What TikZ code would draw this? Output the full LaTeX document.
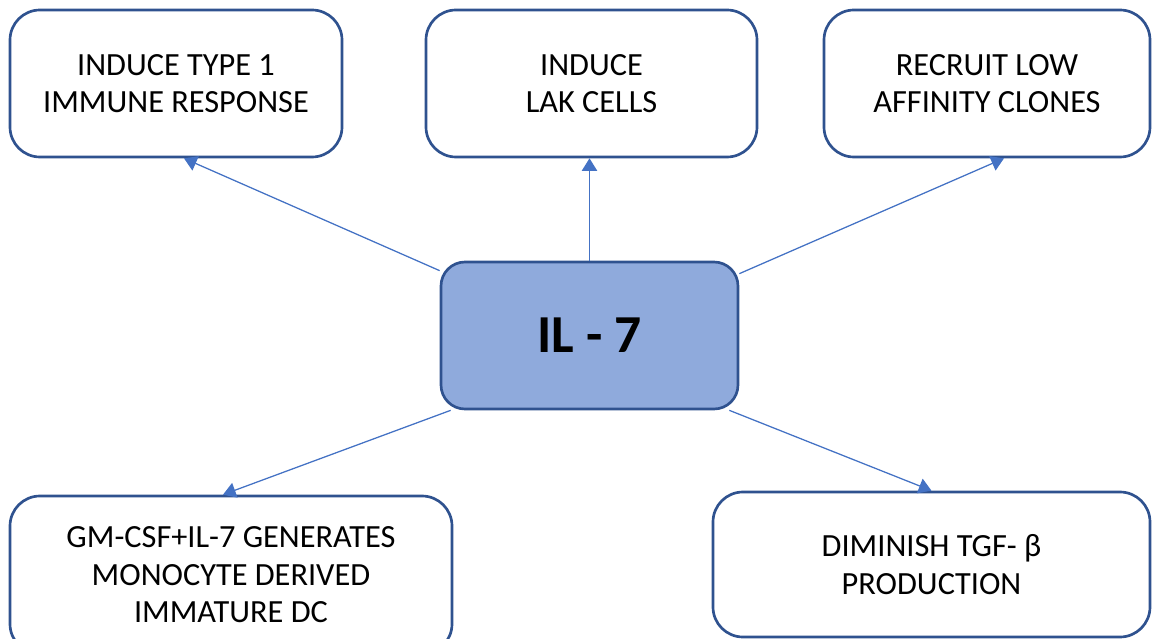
\documentclass[tikz,border=0pt]{standalone}
\usepackage{fontspec}
\setmainfont{Carlito}
\usetikzlibrary{arrows.meta,calc}
\definecolor{boxline}{HTML}{2F528F}
\definecolor{boxfill}{HTML}{8FAADC}
\definecolor{linkline}{HTML}{4472C4}

\begin{document}
\begin{tikzpicture}[>={Triangle[length=9pt,width=11pt]},line join=round]
  \tikzset{box/.style={draw=boxline,line width=1.9pt,rounded corners=0.75cm,fill=white,align=center,inner sep=0pt,font=\fontsize{23}{26.7}\selectfont},
    link/.style={draw=linkline,fill=linkline,line width=0.9pt,->}}
  \useasboundingbox (0,0) rectangle (28.825,15.95);
  \clip (0,0) rectangle (28.825,15.95);
  \node[box,minimum width=8.3cm,minimum height=3.675cm] (type1) at (4.4,13.8625) {INDUCE TYPE 1\\IMMUNE RESPONSE};
  \node[box,minimum width=8.275cm,minimum height=3.675cm] (lak) at (14.7875,13.8625) {INDUCE\\LAK CELLS};
  \node[box,minimum width=8.15cm,minimum height=3.675cm] (clones) at (24.675,13.8625) {RECRUIT LOW\\AFFINITY CLONES};
  \node[box,fill=boxfill,rounded corners=0.6cm,minimum width=7.425cm,minimum height=3.675cm,font=\bfseries\fontsize{38}{40}\selectfont] (il7) at (14.7375,7.5625) {IL - 7};
  \node[box,minimum width=11.05cm,minimum height=3.95cm] (monodc) at (5.775,1.575) {GM-CSF+IL-7 GENERATES\\MONOCYTE DERIVED\\IMMATURE DC};
  \node[box,minimum width=10.925cm,minimum height=3.625cm] (tgf) at (23.2875,1.8375) {DIMINISH TGF- β\\PRODUCTION};
  \path ($(il7.north west)+(0,-0.25)$) edge[link] ($(type1.south)+(0.2,0)$);
  \path (il7.north) edge[link] (il7.north |- lak.south);
  \path ($(il7.north east)+(0,-0.325)$) edge[link] ($(clones.south)+(0.425,0)$);
  \path ($(il7.south west)+(0.275,0)$) edge[link] ($(monodc.north)+(-0.2,0)$);
  \path ($(il7.south east)+(-0.25,0)$) edge[link] (tgf.north);
\end{tikzpicture}
\end{document}
